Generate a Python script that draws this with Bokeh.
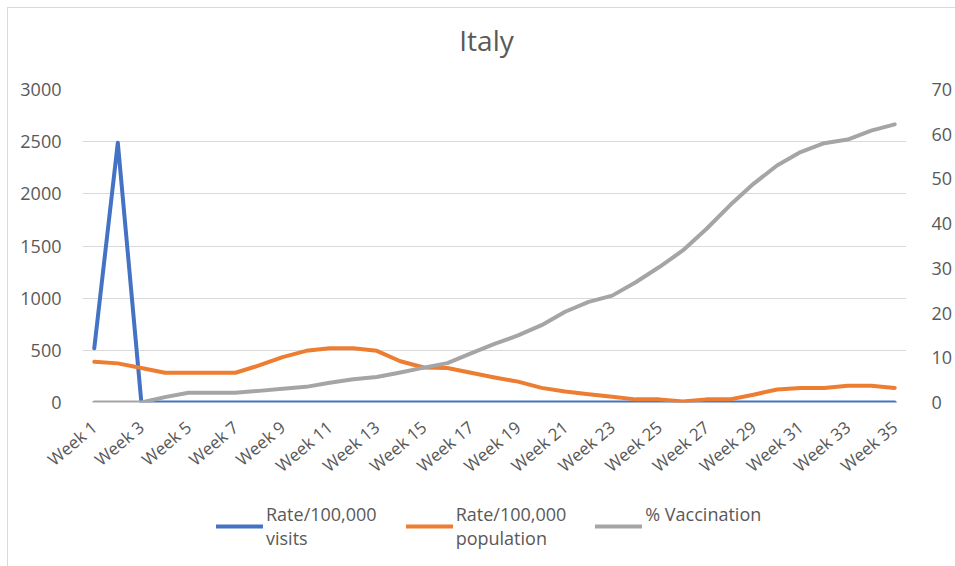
from bokeh.plotting import figure
from bokeh.layouts import column
from bokeh.models import (Range1d, LinearAxis, FixedTicker, Legend, LegendItem,
                          ColumnDataSource, Label)
from bokeh.embed import file_html
from bokeh.resources import INLINE

# ---------------- data ----------------
weeks = ["Week 1", "Week 2", "Week 3", "Week 4", "Week 5", "Week 6", "Week 7",
         "Week 8", "Week 9", "Week 10", "Week 11", "Week 12", "Week 13", "Week 14",
         "Week 15", "Week 16", "Week 17", "Week 18", "Week 19", "Week 20", "Week 21",
         "Week 22", "Week 23", "Week 24", "Week 25", "Week 26", "Week 27", "Week 28",
         "Week 29", "Week 30", "Week 31", "Week 32", "Week 33", "Week 34", "Week 35"]

rate_visits = [520, 2490, 0, 0, 0, 0, 0, 0, 0, 0, 0, 0, 0, 0, 0, 0, 0, 0,
               0, 0, 0, 0, 0, 0, 0, 0, 0, 0, 0, 0, 0, 0, 0, 0, 0]

rate_population = [390, 375, 330, 285, 285, 285, 285, 355, 435, 495, 520, 520,
                   495, 395, 335, 330, 285, 240, 200, 140, 105, 80, 55, 30,
                   30, 10, 30, 30, 75, 125, 140, 140, 160, 160, 140]

pct_vaccination = [0, 0, 0, 1.2, 2.2, 2.2, 2.2, 2.6, 3.1, 3.5, 4.4, 5.2, 5.7,
                   6.7, 7.8, 8.8, 11.0, 13.1, 15.0, 17.3, 20.3, 22.5, 23.9,
                   26.9, 30.3, 34.0, 38.8, 44.1, 48.9, 53.0, 56.0, 58.0, 58.8,
                   60.8, 62.2]

left_ticks = [0, 500, 1000, 1500, 2000, 2500, 3000]
right_ticks = [0, 10, 20, 30, 40, 50, 60, 70]
shown_weeks = [1, 3, 5, 7, 9, 11, 13, 15, 17, 19, 21, 23, 25, 27, 29, 31, 33, 35]

series_names = ["Rate/100,000\nvisits",
                "Rate/100,000\npopulation",
                "% Vaccination\n\u00a0"]
title_text = "Italy"

# ---------------- styling ----------------
TXT = "#595959"
GRID = "#d9d9d9"
FONT = "Open Sans"
BLUE, ORANGE, GRAY = "#4472C4", "#ED7D31", "#A5A5A5"
COLORS = [BLUE, ORANGE, GRAY]
W = 947
TOP_PAD = 12
BOTTOM_PAD = 88
TITLE_H = 81 - TOP_PAD
MAIN_H = TOP_PAD + 313 + BOTTOM_PAD
LEG_H = 558 - TITLE_H - MAIN_H

xpos = list(range(1, len(weeks) + 1))
src = ColumnDataSource(dict(x=xpos, visits=rate_visits, pop=rate_population,
                            vac=pct_vaccination, week=weeks))


def strip(h):
    f = figure(width=W, height=h, output_backend="svg", toolbar_location=None,
               title=None, x_range=Range1d(-2, -1), y_range=Range1d(-2, -1),
               x_axis_location=None, y_axis_location=None, min_border=0)
    f.outline_line_color = None
    f.grid.grid_line_color = None
    f.border_fill_color = "white"
    f.background_fill_color = "white"
    return f


# ---- title strip ----
tf = strip(TITLE_H)
tf.add_layout(Label(x=404, y=38, x_units="screen", y_units="screen",
                    text=title_text, text_font=FONT, text_font_size="28px",
                    text_color=TXT, text_align="center",
                    text_baseline="alphabetic"))

# ---- main chart ----
p = figure(width=W, height=MAIN_H, output_backend="svg", toolbar_location=None,
           title=None,
           x_range=Range1d(0.5, len(weeks) + 0.5), y_range=Range1d(0, 3000),
           min_border_left=74, min_border_right=43, min_border_top=TOP_PAD,
           min_border_bottom=BOTTOM_PAD)
p.extra_y_ranges = {"pct": Range1d(0, 70)}
p.outline_line_color = None
p.background_fill_color = "white"
p.border_fill_color = "white"

p.xaxis.ticker = FixedTicker(ticks=shown_weeks)
p.xaxis.major_label_overrides = {i: weeks[i - 1] for i in shown_weeks}
p.xaxis.major_label_orientation = 0.70
p.yaxis.ticker = FixedTicker(ticks=left_ticks)

right = LinearAxis(y_range_name="pct", ticker=FixedTicker(ticks=right_ticks))
p.add_layout(right, "right")

for ax in [p.xaxis[0], p.yaxis[0], right]:
    ax.axis_line_color = None
    ax.major_tick_line_color = None
    ax.minor_tick_line_color = None
    ax.major_label_text_color = TXT
    ax.major_label_text_font = FONT
    ax.major_label_text_font_size = "18px"
p.xaxis[0].major_label_text_font_size = "17px"
p.yaxis[0].major_label_standoff = 15
right.major_label_standoff = 19
p.xaxis[0].major_label_standoff = 16

p.xgrid.grid_line_color = None
p.ygrid.grid_line_color = GRID
p.ygrid.grid_line_width = 1

r1 = p.line("x", "visits", source=src, line_color=BLUE, line_width=4,
            line_cap="round", line_join="round")
r2 = p.line("x", "pop", source=src, line_color=ORANGE, line_width=4,
            line_cap="round", line_join="round")
r3 = p.line("x", "vac", source=src, y_range_name="pct", line_color=GRAY,
            line_width=4, line_cap="round", line_join="round")

# ---- legend strip: lines reuse the series but lie outside its ranges ----
lf = strip(LEG_H)
lrs = [lf.line("x", col, source=src, line_color=c, line_width=4, line_cap="round")
       for col, c in zip(["visits", "pop", "vac"], COLORS)]
leg = Legend(items=[LegendItem(label=n, renderers=[r])
                    for n, r in zip(series_names, lrs)],
             location=(134, 16), orientation="horizontal", spacing=29,
             border_line_color=None, background_fill_alpha=0,
             padding=0, margin=0, glyph_width=47, glyph_height=20,
             label_standoff=3, label_text_font=FONT,
             label_text_font_size="18px", label_text_color=TXT,
             label_text_line_height=1.39)
lf.add_layout(leg, "center")

lay = column(tf, p, lf, spacing=0)
lay.margin = (7, 0, 0, 7)
lay.styles = {"border-left": "1px solid #d9d9d9", "border-top": "1px solid #d9d9d9"}

open("out.html", "w").write(file_html(lay, INLINE))
